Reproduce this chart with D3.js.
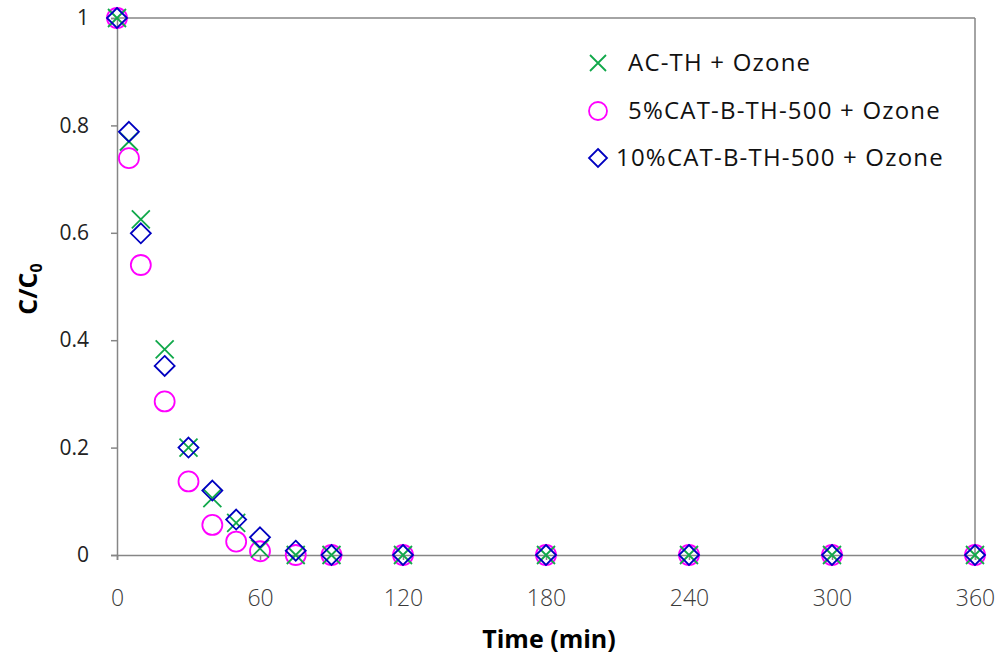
<!DOCTYPE html>
<html>
<head>
<meta charset="utf-8">
<script src="https://cdn.jsdelivr.net/npm/d3@7"></script>
<style>
  body { margin: 0; background: #fff; }
  text { font-family: "Open Sans", "Noto Sans", sans-serif; }
</style>
</head>
<body>
<svg id="chart" width="1003" height="657"></svg>
<script>
// Data.
var times = [0, 5, 10, 20, 30, 40, 50, 60, 75, 90, 120, 180, 240, 300, 360];
var acTH = [1, 0.77, 0.625, 0.383, 0.2, 0.106, 0.06, 0.012, 0, 0, 0, 0, 0, 0, 0];
var cat5 = [1, 0.739, 0.54, 0.286, 0.137, 0.056, 0.025, 0.007, 0, 0, 0, 0, 0, 0, 0];
var cat10 = [1, 0.788, 0.599, 0.352, 0.2, 0.12, 0.066, 0.033, 0.008, 0, 0, 0, 0, 0, 0];
var seriesNames = ["AC-TH + Ozone", "5%CAT-B-TH-500 + Ozone", "10%CAT-B-TH-500 + Ozone"];
var xTicks = [0, 60, 120, 180, 240, 300, 360];
var yTicks = [0, 0.2, 0.4, 0.6, 0.8, 1];

var svg = d3.select("#chart");
var plotLeft = 117, plotRight = 975, plotTop = 18, plotBottom = 555;

var x = d3.scaleLinear().domain([0, 360]).range([plotLeft, plotRight]);
var y = d3.scaleLinear().domain([0, 1]).range([plotBottom, plotTop]);

var axisColor = "#868686";

// Plot frame (top and right border)
svg.append("line").attr("x1", plotLeft).attr("x2", plotRight).attr("y1", plotTop).attr("y2", plotTop)
    .attr("stroke", axisColor).attr("stroke-width", 1.5);
svg.append("line").attr("x1", plotRight).attr("x2", plotRight).attr("y1", plotTop).attr("y2", plotBottom)
    .attr("stroke", axisColor).attr("stroke-width", 1.5);

// X axis
var xAxis = svg.append("g").attr("transform", "translate(0," + plotBottom + ")")
    .call(d3.axisBottom(x).tickValues(xTicks).tickSize(5).tickPadding(30).tickFormat(d3.format("d")));
// Y axis
var yAxis = svg.append("g").attr("transform", "translate(" + plotLeft + ",0)")
    .call(d3.axisLeft(y).tickValues(yTicks).tickSize(6).tickPadding(22).tickFormat(function (d) { return d === 0 || d === 1 ? d : d.toFixed(1); }));

[xAxis, yAxis].forEach(function (g) {
    g.select(".domain").attr("stroke", axisColor).attr("stroke-width", 1.5);
    g.selectAll(".tick line").attr("stroke", axisColor).attr("stroke-width", 1.5);
});
xAxis.selectAll(".tick text").attr("fill", "#3a3a3a").style("font-size", "23px").style("font-weight", "300");
yAxis.selectAll(".tick text").attr("fill", "#222").style("font-size", "21px");

// Axis titles
svg.append("text").attr("x", 549).attr("y", 648).attr("text-anchor", "middle")
    .style("font-size", "25px").style("font-weight", "bold").text("Time (min)");
var yTitle = svg.append("text").attr("transform", "translate(37,289) rotate(-90)")
    .attr("text-anchor", "middle").style("font-size", "25px").style("font-weight", "bold");
yTitle.append("tspan").text("C/C");
yTitle.append("tspan").attr("dy", 5).style("font-size", "16px").text("0");

// Marker drawing helpers
var green = "#10a84a", magenta = "#ff00ff", blue = "#0000c0";

function drawCross (g, cx, cy, s) {
    g.append("path").attr("d", "M" + (cx - s) + "," + (cy - s) + "L" + (cx + s) + "," + (cy + s) +
        "M" + (cx - s) + "," + (cy + s) + "L" + (cx + s) + "," + (cy - s))
        .attr("stroke", green).attr("stroke-width", 1.8).attr("fill", "none");
}
function drawCircle (g, cx, cy, r) {
    g.append("circle").attr("cx", cx).attr("cy", cy).attr("r", r)
        .attr("stroke", magenta).attr("stroke-width", 1.8).attr("fill", "none");
}
function drawDiamond (g, cx, cy, s) {
    g.append("path").attr("d", "M" + cx + "," + (cy - s) + "L" + (cx + s) + "," + cy +
        "L" + cx + "," + (cy + s) + "L" + (cx - s) + "," + cy + "Z")
        .attr("stroke", blue).attr("stroke-width", 1.8).attr("fill", "none");
}

var marks = svg.append("g");
times.forEach(function (t, i) { drawCircle(marks, x(t), y(cat5[i]), 10); });
times.forEach(function (t, i) { drawCross(marks, x(t), y(acTH[i]), 9); });
times.forEach(function (t, i) { drawDiamond(marks, x(t), y(cat10[i]), 10); });

// Legend
var legend = svg.append("g");
drawCross(legend, 598, 63, 8);
drawCircle(legend, 598, 111, 9);
drawDiamond(legend, 598, 158, 9);
var legendX = [628, 628, 616];
var legendY = [63, 111, 158];
seriesNames.forEach(function (name, i) {
    legend.append("text").attr("x", legendX[i]).attr("y", legendY[i]).attr("dy", "0.35em")
        .style("font-size", "24px").style("letter-spacing", "1.2px").attr("fill", "#111").text(name);
});
</script>
</body>
</html>
